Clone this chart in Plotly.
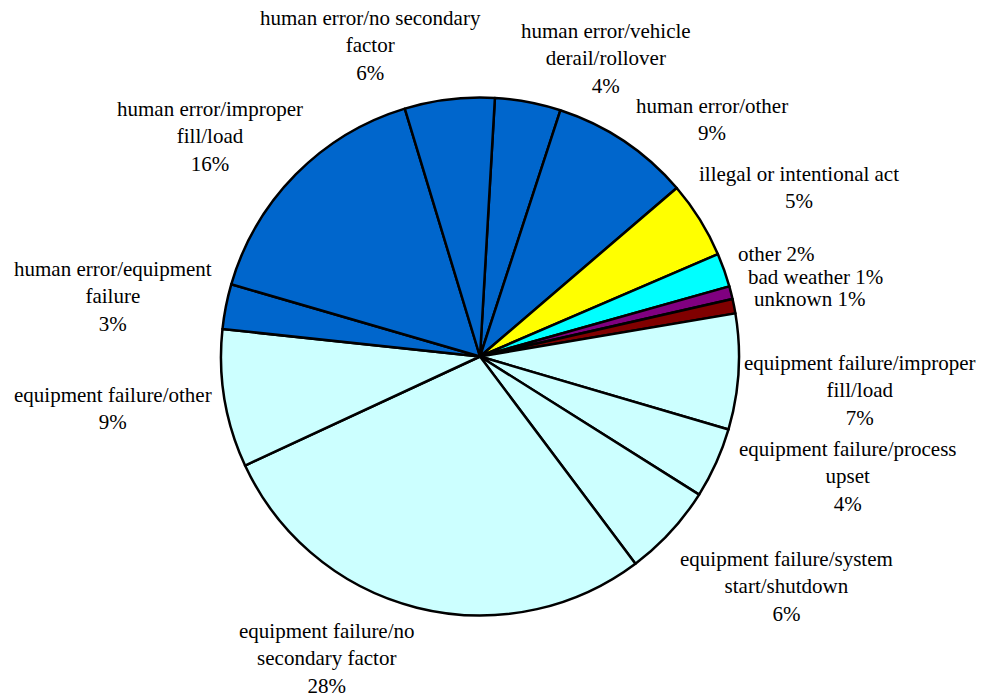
import plotly.graph_objects as go

# Data (clockwise order starting just right of 12 o'clock)
labels = [
    "human error/vehicle<br>derail/rollover",
    "human error/other",
    "illegal or intentional act",
    "other",
    "bad weather",
    "unknown",
    "equipment failure/improper<br>fill/load",
    "equipment failure/process<br>upset",
    "equipment failure/system<br>start/shutdown",
    "equipment failure/no<br>secondary factor",
    "equipment failure/other",
    "human error/equipment<br>failure",
    "human error/improper<br>fill/load",
    "human error/no secondary<br>factor",
]
values = [4.1, 8.7, 4.8, 2.1, 0.8, 0.9, 7.2, 4.4, 5.8, 28.3, 8.6, 2.8, 15.8, 5.6]
# how percentage is joined to the label: new line or same line
pct_sep = ["<br>", "<br>", "<br>", " ", " ", " ", "<br>", "<br>", "<br>", "<br>", "<br>", "<br>", "<br>", "<br>"]

BLUE = "#0066CC"
LIGHT = "#CCFFFF"
colors = [BLUE, BLUE, "#FFFF00", "#00FFFF", "#800080", "#800000",
          LIGHT, LIGHT, LIGHT, LIGHT, LIGHT, BLUE, BLUE, BLUE]

# label block centres in pixels (x, y from top)
label_pos = [
    (606, 59), (712, 119), (799, 187), (776, 254), (815, 277), (809, 299),
    (860, 390), (848, 476), (786, 586), (327, 658), (113, 408), (113, 297),
    (210, 137), (370, 46),
]

W, H = 984, 698
cx, cy, R = 480, 356.5, 259

fig = go.Figure(go.Pie(
    labels=labels,
    values=values,
    sort=False,
    direction="clockwise",
    rotation=3.3,
    marker=dict(colors=colors, line=dict(color="black", width=2.5)),
    textinfo="none",
    hoverinfo="label+percent",
    showlegend=False,
    domain=dict(x=[(cx - R) / W, (cx + R) / W],
                y=[(H - cy - R) / H, (H - cy + R) / H]),
))

total = sum(values)
annotations = []
for lab, v, sep, (px, py) in zip(labels, values, pct_sep, label_pos):
    pct = f"{round(100 * v / total)}%"
    annotations.append(dict(
        x=px / W, y=1 - py / H, xref="paper", yref="paper",
        text=f"{lab}{sep}{pct}", showarrow=False,
        xanchor="center", yanchor="middle", align="center",
        font=dict(family="Liberation Serif", size=21, color="black"),
    ))

fig.update_layout(
    width=W, height=H,
    margin=dict(l=0, r=0, t=0, b=0),
    paper_bgcolor="white", plot_bgcolor="white",
    annotations=annotations,
)

fig.write_html("out.html")
